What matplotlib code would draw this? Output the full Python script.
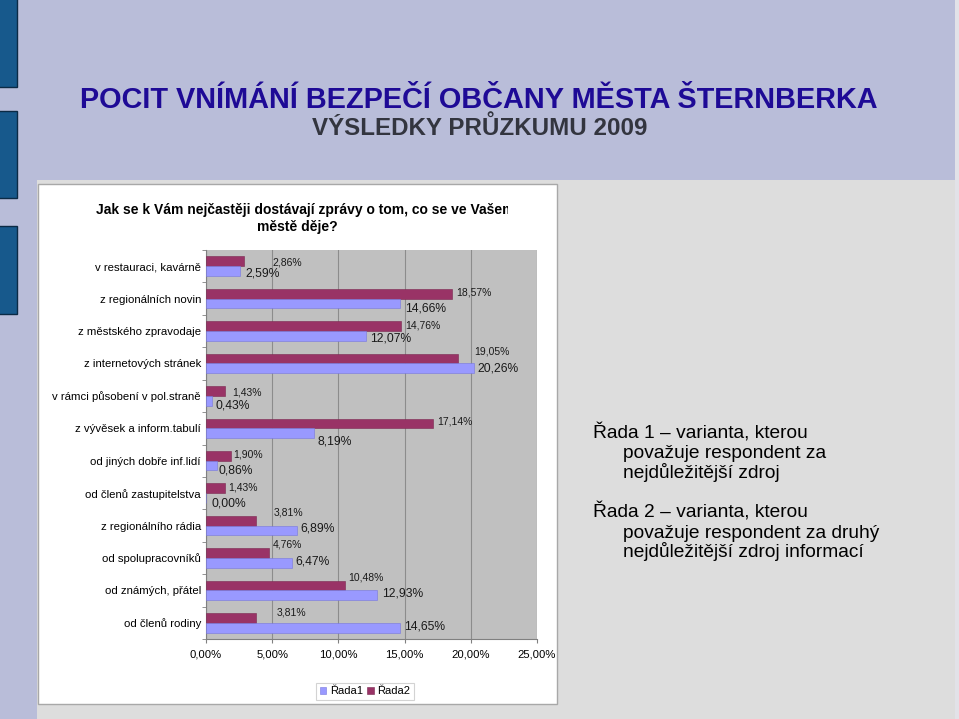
import numpy as np
import matplotlib
matplotlib.use("Agg")
import matplotlib.pyplot as plt
from matplotlib.patches import Rectangle
from matplotlib.transforms import Bbox

plt.rcParams['font.family'] = ['Liberation Sans', 'DejaVu Sans']

# ---------------- data ----------------
categories = [
    "v restauraci, kavárně",
    "z regionálních novin",
    "z městského zpravodaje",
    "z internetových stránek",
    "v rámci působení v pol.straně",
    "z vývěsek a inform.tabulí",
    "od jiných dobře inf.lidí",
    "od členů zastupitelstva",
    "z regionálního rádia",
    "od spolupracovníků",
    "od známých, přátel",
    "od členů rodiny",
]
rada1 = [2.59, 14.66, 12.07, 20.26, 0.43, 8.19, 0.86, 0.00, 6.89, 6.47, 12.93, 14.65]
rada2 = [2.86, 18.57, 14.76, 19.05, 1.43, 17.14, 1.90, 1.43, 3.81, 4.76, 10.48, 3.81]
series_names = ["Řada1", "Řada2"]
x_ticks = [0, 5, 10, 15, 20, 25]
x_tick_labels = ["0,00%", "5,00%", "10,00%", "15,00%", "20,00%", "25,00%"]

# label offsets in pixels (dx right, dy down) - style only
off2 = [(29, 1), (4, -1), (4, -1), (16, -7), (7, 1), (4, -1.5),
        (2, -1), (3, -1), (17, -8), (4, -9), (3, -8.5), (20, -5)]
off1 = [(5, 2.5), (5, 5), (4, 3), (3, 0), (4, 5), (3, 8.5),
        (1, 5), (5, 6), (3, -1.5), (4, -1), (5, -1.5), (4, -1)]

W, H = 959, 719
fig = plt.figure(figsize=(W / 100, H / 100), dpi=100)
fig.patch.set_facecolor('#B9BDD9')

def fx(px):
    return px / W

def fy(py):
    return 1 - py / H

def frect(x0, y0, x1, y1, **kw):
    r = Rectangle((fx(x0), fy(y1)), fx(x1) - fx(x0), fy(y0) - fy(y1),
                  transform=fig.transFigure, **kw)
    fig.add_artist(r)
    return r

# background regions
frect(37, 180, 955, 719, facecolor='#DDDDDD', edgecolor='none', zorder=0)
frect(955, 0, 959, 719, facecolor='#E2E2E8', edgecolor='none', zorder=0)
for (a, b) in [(-2, 87), (111, 198), (226, 314)]:
    frect(-2, a, 17, b, facecolor='#17598C', edgecolor='#0B2A45', linewidth=1, zorder=1)

# white chart panel
frect(38, 184, 557, 704, facecolor='white', edgecolor='#A8A8A8', linewidth=1, zorder=1)

# titles
fig.text(fx(479), fy(100), "POCIT VNÍMÁNÍ BEZPEČÍ OBČANY MĚSTA ŠTERNBERKA",
         ha='center', va='center', fontsize=20.8, fontweight='bold', color='#1E0A96')
fig.text(fx(479.5), fy(128), "VÝSLEDKY PRŮZKUMU 2009",
         ha='center', va='center', fontsize=17.4, fontweight='bold', color='#33353F')

t = fig.text(fx(96), fy(210), "Jak se k Vám nejčastěji dostávají zprávy o tom, co se ve Vašem",
             ha='left', va='center', fontsize=10, fontweight='bold', color='black', zorder=3)
t.set_clip_box(Bbox.from_extents(0, 0, 508, H))
t.set_clip_on(True)
fig.text(fx(297), fy(227), "městě děje?", ha='center', va='center',
         fontsize=10, fontweight='bold', color='black', zorder=3)

# right-hand explanation
right_lines = [
    (593, 438.5, "Řada 1 – varianta, kterou"),
    (623, 458, "považuje respondent za"),
    (623, 477.5, "nejdůležitější zdroj"),
    (593, 518, "Řada 2 – varianta, kterou"),
    (623, 537.5, "považuje respondent za druhý"),
    (623, 557, "nejdůležitější zdroj informací"),
]
for x, y, s in right_lines:
    fig.text(fx(x), fy(y), s, ha='left', va='baseline', fontsize=13.8, color='black')

# ---------------- axes ----------------
ax = fig.add_axes([fx(206), fy(639), fx(537) - fx(206), fy(250) - fy(639)])
ax.set_zorder(2)
ax.set_facecolor('#C0C0C0')

y = np.arange(len(categories))
h = 0.3
c1, c2 = '#9999FF', '#993366'
b2 = ax.barh(y - h / 2, rada2, height=h, color=c2, edgecolor='#7A2850', linewidth=0.4,
             label=series_names[1], zorder=3)
b1 = ax.barh(y + h / 2, rada1, height=h, color=c1, edgecolor='#7777DD', linewidth=0.4,
             label=series_names[0], zorder=3)

ax.set_xlim(0, 25)
ax.set_ylim(len(categories) - 0.5, -0.5)
ax.set_xticks(x_ticks)
ax.set_xticklabels(x_tick_labels, fontsize=8.1)
ax.set_yticks(y)
ax.set_yticklabels(categories, fontsize=8.2)
ax.set_yticks(np.arange(len(categories) + 1) - 0.5, minor=True)
ax.tick_params(axis='y', which='major', length=0, pad=3.6)
ax.tick_params(axis='y', which='minor', length=3, color='#808080', direction='out')
ax.tick_params(axis='x', which='major', length=3, color='#808080', pad=4.5)
ax.grid(axis='x', color='#8C8C8C', linewidth=0.8, zorder=1)
ax.set_axisbelow(True)
for side in ['top', 'right']:
    ax.spines[side].set_visible(False)
for side in ['left', 'bottom']:
    ax.spines[side].set_color('#808080')
    ax.spines[side].set_linewidth(0.8)

def fmt(v):
    return f"{v:.2f}%".replace('.', ',')

for i in range(len(categories)):
    dx, dy = off2[i]
    ax.annotate(fmt(rada2[i]), xy=(rada2[i], y[i] - h / 2), xytext=(dx, -dy),
                textcoords='offset pixels', ha='left', va='center', fontsize=7.5,
                color='#1A1A1A', zorder=4, annotation_clip=False)
    dx, dy = off1[i]
    ax.annotate(fmt(rada1[i]), xy=(rada1[i], y[i] + h / 2), xytext=(dx, -dy),
                textcoords='offset pixels', ha='left', va='center', fontsize=8.7,
                color='#1A1A1A', zorder=4, annotation_clip=False)

leg = fig.legend(handles=[b1, b2], labels=series_names, loc='center',
                 bbox_to_anchor=(fx(365), fy(691.5)), ncol=2, fontsize=8,
                 frameon=True, fancybox=False, edgecolor='#C8C8C8',
                 handlelength=0.6, handleheight=0.6, handletextpad=0.3,
                 columnspacing=0.4, borderpad=0.35, borderaxespad=0)
leg.get_frame().set_linewidth(0.8)
leg.set_zorder(5)

fig.savefig("out.png", dpi=100, facecolor=fig.get_facecolor())
